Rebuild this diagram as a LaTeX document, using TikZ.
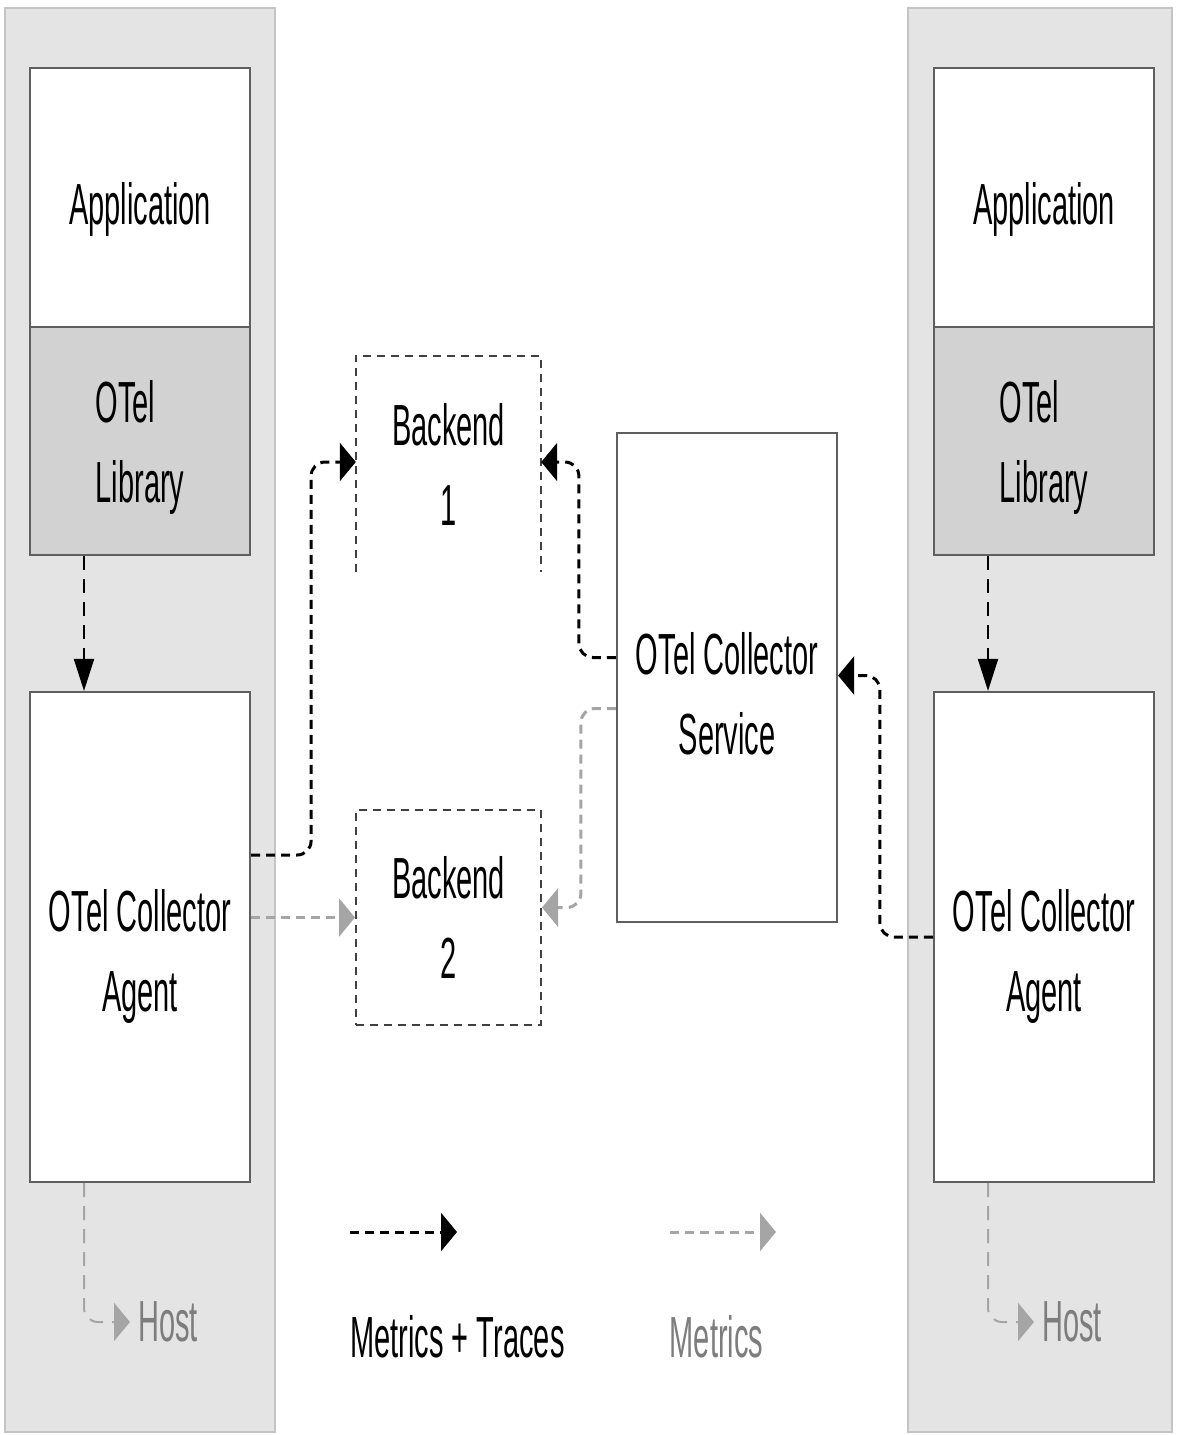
\documentclass[tikz,border=0pt]{standalone}
\usepackage{fontspec}
\newfontfamily\diagfont[FakeStretch=0.5]{Liberation Sans}
\usepackage{xcolor}
\definecolor{hostgray}{RGB}{228,228,228}
\definecolor{hostedge}{RGB}{196,196,196}
\definecolor{libgray}{RGB}{210,210,210}
\definecolor{boxedge}{RGB}{95,95,95}
\definecolor{metgray}{RGB}{165,165,165}
\definecolor{txtgray}{RGB}{125,125,125}
\usetikzlibrary{arrows.meta, positioning}

\begin{document}
\begin{tikzpicture}[x=1pt, y=-1pt,
  every node/.style={font=\diagfont\fontsize{58}{80}\selectfont, align=center, inner sep=0pt},
  host/.style={fill=hostgray, draw=hostedge, line width=1.5pt},
  box/.style={fill=white, draw=boxedge, line width=2.2pt, minimum width=220pt},
  lib/.style={box, fill=libgray},
  backend/.style={minimum width=185pt},
  bedge/.style={draw=black!75, line width=2pt, dash pattern=on 8pt off 6pt},
  mt/.style={black, line width=3pt, dash pattern=on 9pt off 6pt, rounded corners=14pt,
    -{Triangle[length=16pt,width=38pt]}},
  mtdown/.style={mt, line width=2pt, dash pattern=on 14pt off 9pt, -{Triangle[length=32pt,width=20pt]}},
  mx/.style={mt, metgray},
  hostarrow/.style={mx, line width=2pt, dash pattern=on 14pt off 9pt, shorten >=8pt}]

  \useasboundingbox (0,0) rectangle (1177,1435);

  % Host panels
  \draw[host] (5,8) rectangle (275,1432);
  \draw[host] (908,8) rectangle (1172,1432);

  % Left host
  \node[box, minimum height=259pt, label={[yshift=-12pt]center:Application}] (appL) at (140,197.5) {};
  \node[lib, minimum height=228pt, label={[yshift=-6pt, align=left]center:OTel\\Library}] (libL) at (140,441) {};
  \node[box, minimum height=490pt, label={[yshift=-19pt]center:OTel Collector\\Agent}] (agentL) at (140,937) {};
  \node[text=txtgray, anchor=west] (hostL) at (138,1322) {Host};

  % Right host
  \node[box, minimum height=259pt, label={[yshift=-12pt]center:Application}] (appR) at (1044,197.5) {};
  \node[lib, minimum height=228pt, label={[yshift=-6pt, align=left]center:OTel\\Library}] (libR) at (1044,441) {};
  \node[box, minimum height=490pt, label={[yshift=-19pt]center:OTel Collector\\Agent}] (agentR) at (1044,937) {};
  \node[text=txtgray, anchor=west] (hostR) at (1042,1322) {Host};

  % Backends and collector service
  \node[backend, minimum height=216pt] (be1) at (448.5,464) {Backend\\1};
  \draw[bedge] (be1.south west) -- (be1.north west) -- (be1.north east) -- (be1.south east);
  \node[backend, bedge, minimum height=215pt] (be2) at (448.5,917.5) {Backend\\2};
  \node[box, minimum height=489pt, label={[yshift=-16pt]center:OTel Collector\\Service}] (svc) at (727,677.5) {};

  % Library -> agent
  \draw[mtdown] ([xshift=-56pt]libL.south) -- ([xshift=-56pt]agentL.north);
  \draw[mtdown] ([xshift=-56pt]libR.south) -- ([xshift=-56pt]agentR.north);

  % Agents -> backends / service
  \draw[mt] ([yshift=82pt]agentL.east) -- ++(60,0) |- ([yshift=2pt]be1.west);
  \draw[mx] (agentL.east |- be2.west) -- (be2.west);
  \draw[mt] (agentR.west) -- ++(-53,0) |- ([yshift=2pt]svc.east);

  % Service -> backends
  \draw[mt] ([yshift=20pt]svc.west) -- ++(-37,0) |- ([yshift=2pt]be1.east);
  \draw[mx] ([yshift=-31pt]svc.west) -- ++(-35,0) |- ([yshift=10pt]be2.east);

  % Host metrics
  \draw[hostarrow] ([xshift=-56pt]agentL.south) |- (hostL.west);
  \draw[hostarrow] ([xshift=-56pt]agentR.south) |- (hostR.west);

  % Legend
  \coordinate (mtA) at (350,1232);
  \coordinate (mtB) at (457,1232);
  \coordinate (mxA) at (670,1232);
  \coordinate (mxB) at (776,1232);
  \draw[mt] (mtA) -- (mtB);
  \draw[mx] (mxA) -- (mxB);
  \node (mtlbl) at (457.5,1337) {Metrics + Traces};
  \node[text=txtgray] (mxlbl) at (716.5,1337) {Metrics};
\end{tikzpicture}
\end{document}
